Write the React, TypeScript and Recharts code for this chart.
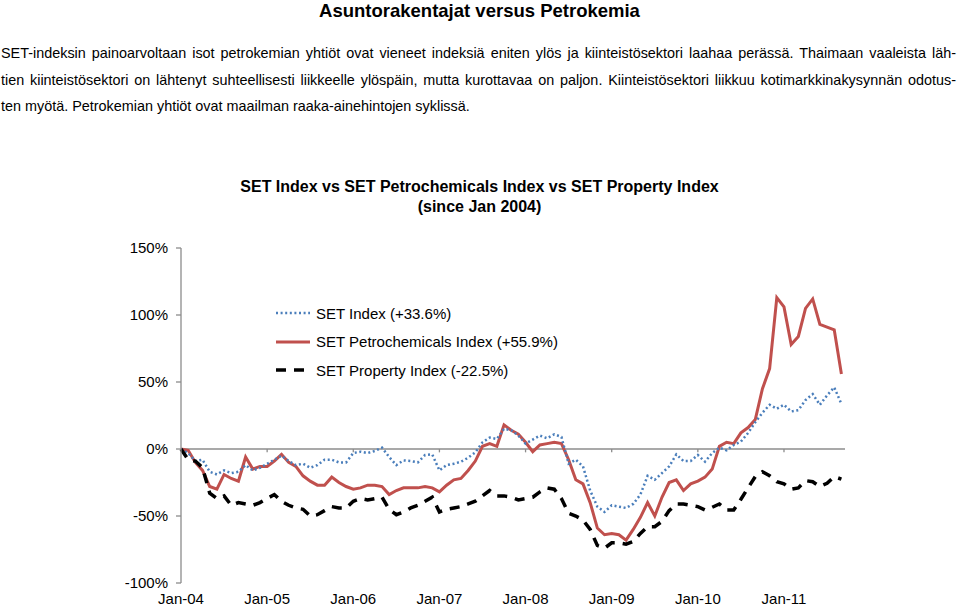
import React from 'react';
import { LineChart, Line, XAxis, YAxis, ReferenceLine, Legend } from 'recharts';

const FONT = '"Liberation Sans", Arial, sans-serif';

// x positions are month numbers counted from Jan 2004
const yearTicks = [0, 12, 24, 36, 48, 60, 72, 84];
const yearLabels = ['Jan-04', 'Jan-05', 'Jan-06', 'Jan-07', 'Jan-08', 'Jan-09', 'Jan-10', 'Jan-11'];
const yTicks = [-100, -50, 0, 50, 100, 150];

const setIndex = [
  0, -3, -9, -8, -17, -19, -16, -18, -17, -12, -16, -14,
  -11, -8, -5, -9, -12, -11, -14, -12, -8, -8, -10, -10,
  -3, -2, -3, -1.5, 1, -6, -12, -8.5, -9, -10, -4.5, -4,
  -16, -12, -11, -9.5, -6.5, -2.5, 5, 8.5, 7.5, 15, 14, 10,
  4, 7, 10, 8, 11, 9, -11, -8, -13, -31, -43, -47,
  -42, -43, -44, -41, -34, -20, -23, -18, -13, -4, -9, -9,
  -4.5, -9.5, -3, 1, -1, 3, 5.5, 12, 20, 27, 33, 30,
  33, 28, 29, 36.5, 41, 33, 40, 46, 33.6,
];

const petrochem = [
  0, -1, -10, -16, -28, -30, -19, -22, -24, -6, -15, -13,
  -13, -9, -4, -10, -13, -20, -24, -27, -27, -21, -25, -28,
  -30, -29, -27, -27, -28, -34, -31, -29, -29, -29, -28, -29,
  -32, -27, -23, -22, -16, -9, 2, 4, 2, 18, 14, 11,
  5, -2, 3, 4, 5, 4, -8, -23, -26, -40, -59, -64,
  -63, -64, -68, -60, -51, -40, -50, -36, -25, -23, -31, -26,
  -24, -21, -15, 2, 5, 4, 12, 16, 22, 45, 60, 113,
  106, 78, 84, 105, 112, 93, 91, 89, 55.9,
];

const property = [
  0, -8, -9, -14, -33, -37, -35, -42, -40, -41, -42, -40,
  -37, -34, -39, -42, -44, -45, -50, -49, -46, -43, -44, -44,
  -39, -37, -38, -37, -36, -45, -49, -47, -44, -42, -39, -36,
  -47, -45, -44, -43, -41, -39, -35, -31, -35, -35, -36, -38,
  -37, -36, -32, -29, -30, -37, -48, -50, -53, -60, -72, -74,
  -70, -70, -71, -69, -63, -58, -58, -54, -46, -41, -41, -42,
  -43, -45.5, -43.5, -41, -45.5, -45.5, -37.5, -29, -20.6, -17, -20, -24.4,
  -26, -30, -29, -23.6, -24.4, -28, -25.6, -20.6, -22.5,
];

const seriesNames = [
  'SET Index (+33.6%)',
  'SET Petrochemicals Index (+55.9%)',
  'SET Property Index (-22.5%)',
];

const data = setIndex.map((v, i) => ({
  m: i,
  set: v,
  petro: petrochem[i],
  prop: property[i],
}));

const BLUE = '#4A7EBB';
const RED = '#C0504D';
const GREY = '#8c8c8c';

const legendItems = [
  { name: seriesNames[0], color: BLUE, width: 2.5, dash: '2 2.6' },
  { name: seriesNames[1], color: RED, width: 3 },
  { name: seriesNames[2], color: '#000', width: 3.5, dash: '10 8' },
];

const LegendBox = () => (
  <div style={{ fontFamily: FONT, fontSize: 15, color: '#000' }}>
    {legendItems.map((it) => (
      <div key={it.name} style={{ display: 'flex', alignItems: 'center', height: 28.5 }}>
        <svg width={40} height={10} style={{ display: 'block' }}>
          <line x1={0} x2={34} y1={5} y2={5} stroke={it.color} strokeWidth={it.width} strokeDasharray={it.dash} />
        </svg>
        <span style={{ whiteSpace: 'nowrap' }}>{it.name}</span>
      </div>
    ))}
  </div>
);

const paraLines = [
  'SET-indeksin painoarvoltaan isot petrokemian yhtiöt ovat vieneet indeksiä eniten ylös ja kiinteistösektori laahaa perässä. Thaimaan vaaleista läh-',
  'tien kiinteistösektori on lähtenyt suhteellisesti liikkeelle ylöspäin, mutta kurottavaa on paljon. Kiinteistösektori liikkuu kotimarkkinakysynnän odotus-',
  'ten myötä. Petrokemian yhtiöt ovat maailman raaka-ainehintojen syklissä.',
];

export default function App() {
  return (
    <div style={{ position: 'absolute', left: 0, top: 0, width: 959, height: 606, background: '#fff', fontFamily: FONT }}>
      <div style={{ position: 'absolute', left: 0, top: 0, width: 959, textAlign: 'center', fontWeight: 'bold', fontSize: 18.5, lineHeight: '22px' }}>
        Asuntorakentajat versus Petrokemia
      </div>
      <div style={{ position: 'absolute', left: 1, top: 40, width: 955, fontSize: 14.4, lineHeight: '26.5px' }}>
        {paraLines.map((l, i) => (
          <div key={i} style={{ textAlign: 'justify', textAlignLast: i < 2 ? 'justify' : 'left' }}>{l}</div>
        ))}
      </div>
      <div style={{ position: 'absolute', left: 0, top: 177, width: 959, textAlign: 'center', fontWeight: 'bold', fontSize: 16, lineHeight: '20px' }}>
        <div>SET Index vs SET Petrochemicals Index vs SET Property Index</div>
        <div>(since Jan 2004)</div>
      </div>
      <div style={{ position: 'absolute', left: 0, top: 0 }}>
        <LineChart width={959} height={606} data={data} margin={{ top: 248, right: 114, bottom: 0, left: 121 }}>
          <XAxis
            type="number"
            dataKey="m"
            domain={[0, 92.5]}
            ticks={yearTicks}
            interval={0}
            tickFormatter={(v) => yearLabels[yearTicks.indexOf(v)]}
            axisLine={false}
            tickLine={false}
            tickSize={6}
            tickMargin={4}
            height={23}
            tick={{ fill: '#000', fontSize: 15, fontFamily: FONT }}
          />
          <YAxis
            domain={[-100, 150]}
            ticks={yTicks}
            interval={0}
            tickFormatter={(v) => `${v}%`}
            axisLine={{ stroke: GREY, strokeWidth: 1.3 }}
            tickLine={{ stroke: GREY, strokeWidth: 1.3 }}
            tickSize={5}
            tickMargin={8}
            width={60}
            tick={{ fill: '#000', fontSize: 15, fontFamily: FONT }}
          />
          <ReferenceLine y={0} stroke={GREY} strokeWidth={1.3} />
          {yearTicks.slice(1).map((t) => (
            <ReferenceLine key={t} segment={[{ x: t, y: 0 }, { x: t, y: -2.5 }]} stroke={GREY} strokeWidth={1.3} />
          ))}
          <Line dataKey="petro" name={seriesNames[1]} stroke={RED} strokeWidth={3} dot={false} isAnimationActive={false} />
          <Line dataKey="set" name={seriesNames[0]} stroke={BLUE} strokeWidth={2.5} strokeDasharray="2 2.6" dot={false} isAnimationActive={false} />
          <Line dataKey="prop" name={seriesNames[2]} stroke="#000" strokeWidth={3.5} strokeDasharray="10 8" dot={false} isAnimationActive={false} />
          <Legend
            layout="vertical"
            align="center"
            verticalAlign="middle"
            content={<LegendBox />}
            wrapperStyle={{ left: 276, top: 299, width: 320 }}
          />
        </LineChart>
      </div>
    </div>
  );
}
